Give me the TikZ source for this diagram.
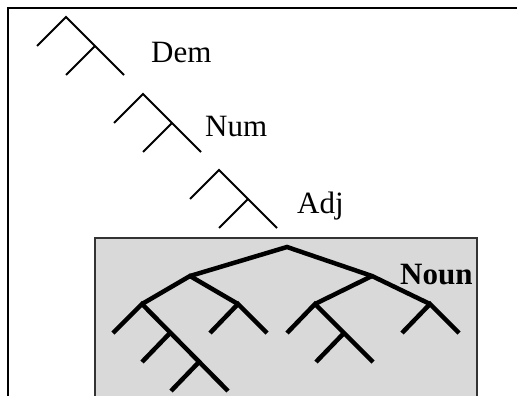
\documentclass[tikz,border=0pt]{standalone}
\usepackage{fontspec}
\setmainfont{Liberation Serif}
\definecolor{boxgray}{RGB}{217,217,217}
\begin{document}
\begin{tikzpicture}[x=1pt,y=-1pt,
  thinbr/.style={line width=1.8pt,line cap=butt},
  thickbr/.style={line width=4.5pt,line cap=butt,line join=miter},
  lab/.style={inner sep=0pt,anchor=base west,font=\fontsize{31}{36}\selectfont}]
\useasboundingbox (0,0) rectangle (517,396);
\begin{scope}
\clip (0,0) rectangle (517,396);
\fill[white] (0,0) rectangle (517,396);
\draw[line width=2pt] (8,8) rectangle (530,410);
\fill[boxgray] (95,238) rectangle (477,410);
\draw[line width=1.5pt,black!80] (95,410) -- (95,238) -- (477,238) -- (477,410);

% small trees
\foreach \i/\dx in {a/0,b/77,c/153}{
  \coordinate (\i top) at (66+\dx,17+\dx);
  \coordinate (\i l) at (37+\dx,46+\dx);
  \coordinate (\i m) at (95+\dx,46+\dx);
  \coordinate (\i r) at (124+\dx,75+\dx);
  \coordinate (\i ml) at (66+\dx,75+\dx);
  \draw[thinbr] (\i l) -- (\i top) -- (\i r);
  \draw[thinbr] (\i m) -- (\i ml);
}

% noun tree
\coordinate (root) at (287,247);
\coordinate (L) at (190,276);
\coordinate (R) at (372,276);
\coordinate (RR) at (430,304);
\coordinate (RL) at (315,304);
\coordinate (RLl) at (287,333);
\coordinate (RLm) at (344,333);
\coordinate (RLr) at (373,362);
\coordinate (RLml) at (316,362);
\coordinate (RRl) at (402,333);
\coordinate (RRr) at (459,333);
\coordinate (LL) at (142,304);
\coordinate (LR) at (238,304);
\coordinate (LRl) at (210,333);
\coordinate (LRr) at (267,333);
\coordinate (LLl) at (113,333);
\coordinate (LLm) at (170,333);
\coordinate (LLml) at (142,362);
\coordinate (LLn) at (199,362);
\coordinate (LLnl) at (171,391);
\coordinate (LLe) at (228,391);

\draw[thickbr] (L) -- (root) -- (R) -- (RR);
\draw[thickbr] (R) -- (RL);
\draw[thickbr] (RLl) -- (RL) -- (RLr);
\draw[thickbr] (RLm) -- (RLml);
\draw[thickbr] (RRl) -- (RR) -- (RRr);
\draw[thickbr] (LL) -- (L) -- (LR);
\draw[thickbr] (LRl) -- (LR) -- (LRr);
\draw[thickbr] (LLl) -- (LL) -- (LLe);
\draw[thickbr] (LLm) -- (LLml);
\draw[thickbr] (LLn) -- (LLnl);
\end{scope}

\node[lab] (dem) at (151,63) {Dem};
\node[lab] (num) at (205,136) {Num};
\node[lab] (adj) at (297,213) {Adj};
\node[lab,font=\fontsize{31}{36}\selectfont\bfseries] (noun) at (400,284) {Noun};
\end{tikzpicture}
\end{document}
